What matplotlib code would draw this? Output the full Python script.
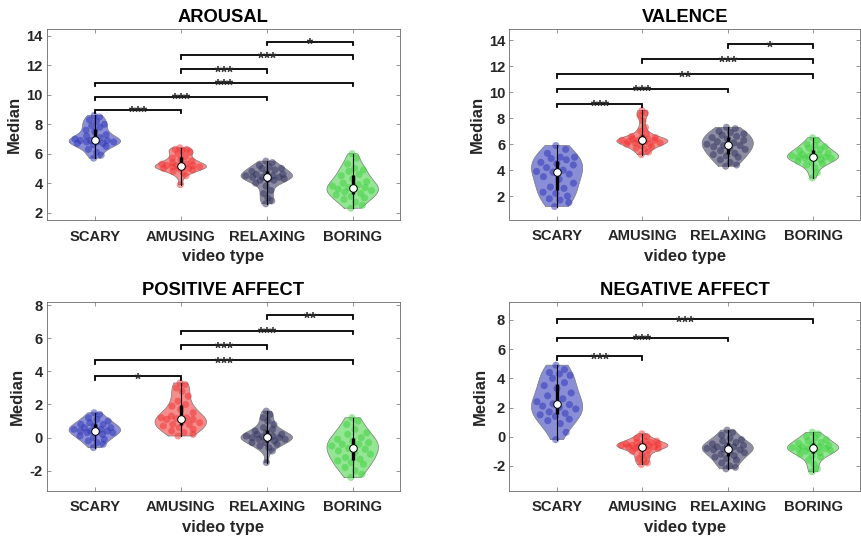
import numpy as np
import matplotlib
matplotlib.use('Agg')
import matplotlib.pyplot as plt

categories = ['SCARY', 'AMUSING', 'RELAXING', 'BORING']
titles = ['AROUSAL', 'VALENCE', 'POSITIVE AFFECT', 'NEGATIVE AFFECT']

arousal_scary = [5.7, 5.9, 6.1, 6.3, 6.5, 6.6, 6.7, 6.7, 6.8, 6.8, 6.8, 6.9, 6.9, 6.9, 7.0, 7.1, 7.2, 7.3, 7.5, 7.6, 7.8, 7.9, 8.0, 8.2, 8.3, 8.5, 8.6]
arousal_amusing = [3.9, 4.5, 4.7, 4.8, 4.9, 5.0, 5.0, 5.0, 5.1, 5.1, 5.1, 5.2, 5.2, 5.2, 5.3, 5.3, 5.4, 5.5, 5.6, 5.7, 5.8, 6.0, 6.1, 6.2, 6.3, 6.3, 6.4]
arousal_relaxing = [2.6, 2.8, 3.0, 3.3, 3.5, 3.8, 4.0, 4.2, 4.2, 4.3, 4.3, 4.4, 4.4, 4.4, 4.5, 4.5, 4.6, 4.6, 4.7, 4.8, 4.9, 5.0, 5.0, 5.1, 5.2, 5.4, 5.5]
arousal_boring = [2.3, 2.5, 2.7, 2.9, 3.0, 3.1, 3.2, 3.3, 3.4, 3.5, 3.6, 3.6, 3.7, 3.7, 3.8, 3.9, 4.0, 4.1, 4.3, 4.5, 4.6, 4.8, 4.9, 5.0, 5.3, 5.7, 6.0]

valence_scary = [1.2, 1.5, 1.7, 1.8, 2.0, 2.2, 2.3, 2.6, 2.7, 3.0, 3.3, 3.5, 3.7, 3.85, 3.9, 4.0, 4.2, 4.4, 4.5, 4.6, 4.8, 4.9, 5.0, 5.0, 5.3, 5.6, 5.9]
valence_amusing = [5.2, 5.4, 5.6, 5.7, 5.8, 5.9, 6.0, 6.0, 6.1, 6.1, 6.2, 6.2, 6.3, 6.3, 6.3, 6.4, 6.4, 6.5, 6.5, 6.6, 6.8, 7.0, 7.3, 7.8, 8.2, 8.4, 8.6]
valence_relaxing = [4.3, 4.4, 4.6, 4.8, 5.0, 5.1, 5.2, 5.3, 5.5, 5.6, 5.7, 5.8, 5.9, 5.9, 6.0, 6.1, 6.2, 6.3, 6.4, 6.5, 6.6, 6.7, 6.8, 6.9, 7.0, 7.2, 7.3]
valence_boring = [3.4, 3.8, 4.2, 4.4, 4.5, 4.6, 4.7, 4.8, 4.9, 4.9, 5.0, 5.0, 5.0, 5.05, 5.1, 5.2, 5.2, 5.3, 5.4, 5.5, 5.6, 5.7, 5.8, 5.9, 6.0, 6.3, 6.5]

positive_scary = [-0.6, -0.4, -0.3, -0.2, -0.1, 0.0, 0.1, 0.2, 0.3, 0.3, 0.4, 0.4, 0.4, 0.4, 0.5, 0.5, 0.6, 0.6, 0.7, 0.8, 0.8, 0.9, 1.0, 1.1, 1.2, 1.4, 1.5]
positive_amusing = [0.1, 0.2, 0.3, 0.4, 0.5, 0.6, 0.7, 0.8, 0.8, 0.9, 1.0, 1.1, 1.1, 1.15, 1.2, 1.2, 1.3, 1.5, 1.7, 1.9, 2.0, 2.2, 2.5, 2.8, 3.0, 3.2, 3.3]
positive_relaxing = [-1.5, -0.8, -0.6, -0.5, -0.4, -0.3, -0.3, -0.2, -0.1, -0.1, 0.0, 0.0, 0.0, 0.05, 0.1, 0.1, 0.2, 0.2, 0.3, 0.4, 0.5, 0.6, 0.8, 1.0, 1.2, 1.4, 1.6]
positive_boring = [-2.4, -2.2, -2.0, -1.8, -1.6, -1.5, -1.4, -1.3, -1.2, -1.0, -0.9, -0.8, -0.7, -0.65, -0.5, -0.4, -0.4, -0.3, -0.2, -0.1, 0.0, 0.2, 0.3, 0.5, 0.8, 1.0, 1.2]

negative_scary = [-0.2, 0.3, 0.9, 1.1, 1.2, 1.4, 1.5, 1.6, 1.7, 1.9, 2.0, 2.1, 2.2, 2.25, 2.4, 2.6, 2.8, 3.0, 3.3, 3.5, 3.7, 4.0, 4.2, 4.3, 4.4, 4.6, 4.9]
negative_amusing = [-1.9, -1.8, -1.6, -1.5, -1.3, -1.2, -1.0, -0.9, -0.8, -0.8, -0.7, -0.7, -0.7, -0.7, -0.6, -0.6, -0.6, -0.5, -0.5, -0.5, -0.4, -0.4, -0.3, -0.3, -0.1, 0.0, 0.2]
negative_relaxing = [-2.2, -2.1, -2.0, -1.8, -1.6, -1.5, -1.4, -1.3, -1.2, -1.1, -1.0, -0.9, -0.9, -0.85, -0.8, -0.7, -0.7, -0.6, -0.6, -0.5, -0.4, -0.3, -0.2, -0.1, 0.1, 0.3, 0.45]
negative_boring = [-2.4, -2.2, -1.9, -1.6, -1.4, -1.3, -1.2, -1.1, -1.0, -0.95, -0.9, -0.85, -0.8, -0.8, -0.75, -0.7, -0.7, -0.6, -0.5, -0.45, -0.4, -0.3, -0.2, -0.1, 0.0, 0.2, 0.3]

# significance brackets: (group i, group j, height, label)
arousal_sig = [(0, 1, 9.0, '***'), (0, 2, 9.86, '***'), (0, 3, 10.83, '***'),
               (1, 2, 11.74, '***'), (1, 3, 12.69, '***'), (2, 3, 13.6, '*')]
valence_sig = [(0, 1, 9.13, '***'), (0, 2, 10.28, '***'), (0, 3, 11.38, '**'),
               (1, 3, 12.54, '***'), (2, 3, 13.72, '*')]
positive_sig = [(0, 1, 3.72, '*'), (0, 3, 4.68, '***'), (1, 2, 5.59, '***'),
                (1, 3, 6.45, '***'), (2, 3, 7.4, '**')]
negative_sig = [(0, 1, 5.53, '***'), (0, 2, 6.79, '***'), (0, 3, 8.05, '***')]

ylims = [(1.5, 14.45), (0.2, 14.85), (-3.2, 8.2), (-3.7, 9.25)]
yticks = [[2, 4, 6, 8, 10, 12, 14], [2, 4, 6, 8, 10, 12, 14],
          [-2, 0, 2, 4, 6, 8], [-2, 0, 2, 4, 6, 8]]

data = [
    [arousal_scary, arousal_amusing, arousal_relaxing, arousal_boring],
    [valence_scary, valence_amusing, valence_relaxing, valence_boring],
    [positive_scary, positive_amusing, positive_relaxing, positive_boring],
    [negative_scary, negative_amusing, negative_relaxing, negative_boring],
]
sigs = [arousal_sig, valence_sig, positive_sig, negative_sig]

colors = ['#2a32b5', '#f03030', '#2f2f5a', '#3cd03c']

W, H = 861, 540
plt.rcParams['font.family'] = ['Liberation Sans', 'DejaVu Sans']
plt.rcParams['font.weight'] = 'bold'
plt.rcParams['axes.unicode_minus'] = False
fig = plt.figure(figsize=(W / 100, H / 100), dpi=100)

boxes_px = [(46.7, 29.3, 400.0, 220.0), (509.3, 29.3, 860.0, 219.5),
            (46.7, 301.7, 400.0, 490.7), (509.3, 301.7, 860.0, 490.7)]


def kde(vals, grid):
    v = np.asarray(vals, dtype=float)
    n = len(v)
    sig = np.median(np.abs(v - np.median(v))) / 0.6745
    bw = sig * (4.0 / (3.0 * n)) ** 0.2
    return np.exp(-0.5 * ((grid[:, None] - v[None, :]) / bw) ** 2).sum(1)


golden = 0.6180339887
axcol = '#6a6a6a'
txtcol = '#262626'

for k in range(4):
    l, t, r, b = boxes_px[k]
    ax = fig.add_axes([l / W, 1 - b / H, (r - l) / W, (b - t) / H])
    y0, y1 = ylims[k]
    ax.set_xlim(0.44, 4.55)
    ax.set_ylim(y0, y1)
    for gi, vals in enumerate(data[k]):
        pos = gi + 1
        v = np.asarray(vals, dtype=float)
        c = colors[gi]
        grid = np.linspace(v.min(), v.max(), 200)
        d = kde(v, grid)
        w = 0.3 * d / d.max()
        ax.fill(np.r_[pos - w, (pos + w)[::-1]], np.r_[grid, grid[::-1]],
                facecolor=c, alpha=0.55, edgecolor='none', zorder=2)
        ax.plot(np.r_[pos - w, (pos + w)[::-1], pos - w[0]],
                np.r_[grid, grid[::-1], grid[0]], color='#7a7a7a', lw=0.5, zorder=2.1)
        # deterministic spread of points inside the violin
        dv = kde(v, v)
        wv = 0.3 * dv / d.max()
        frac = (np.arange(len(v)) * golden + 0.37) % 1.0
        xs = pos + (frac - 0.5) * 2 * wv * 0.85
        ax.scatter(xs, v, s=26, color=c, alpha=0.5, edgecolors='none', zorder=3)
        q1, med, q3 = np.percentile(v, [25, 50, 75])
        ax.plot([pos, pos], [v.min(), v.max()], color='black', lw=0.8, zorder=4)
        ax.plot([pos, pos], [q1, q3], color='black', lw=2.4, zorder=4,
                solid_capstyle='butt')
        ax.scatter([pos], [med], s=30, facecolor='white', edgecolor='black',
                   linewidths=0.7, zorder=5)
    # brackets
    ppu = (b - t) / (y1 - y0)
    tick = 3.6 / ppu
    for (i, j, h, lab) in sigs[k]:
        ax.plot([i + 1, i + 1, j + 1, j + 1], [h - tick, h, h, h - tick],
                color='black', lw=1.3, zorder=6, solid_joinstyle='miter')
        ax.annotate(lab, xy=((i + j) / 2 + 1, h), xytext=(0, -6.0),
                    textcoords='offset points', ha='center', va='baseline',
                    fontsize=11.2, fontweight='bold', color=txtcol, zorder=7)
    ax.set_xticks([1, 2, 3, 4])
    ax.set_xticklabels(categories)
    ax.set_yticks(yticks[k])
    ax.tick_params(direction='in', length=3.0, width=0.5, color=axcol,
                   top=True, right=True, labelsize=10.6, labelcolor=txtcol)
    ax.tick_params(axis='x', pad=7)
    ax.tick_params(axis='y', pad=3)
    for lbl in ax.get_xticklabels() + ax.get_yticklabels():
        lbl.set_fontweight('bold')
    for sp in ax.spines.values():
        sp.set_color(axcol)
        sp.set_linewidth(0.6)
    ax.set_title(titles[k], fontsize=13.2, fontweight='bold', color='black', pad=5)
    ax.set_xlabel('video type', fontsize=12, fontweight='bold', color=txtcol, labelpad=4)
    ax.set_ylabel('Median', fontsize=12, fontweight='bold', color=txtcol, labelpad=3)

fig.savefig('out.png', dpi=100)
